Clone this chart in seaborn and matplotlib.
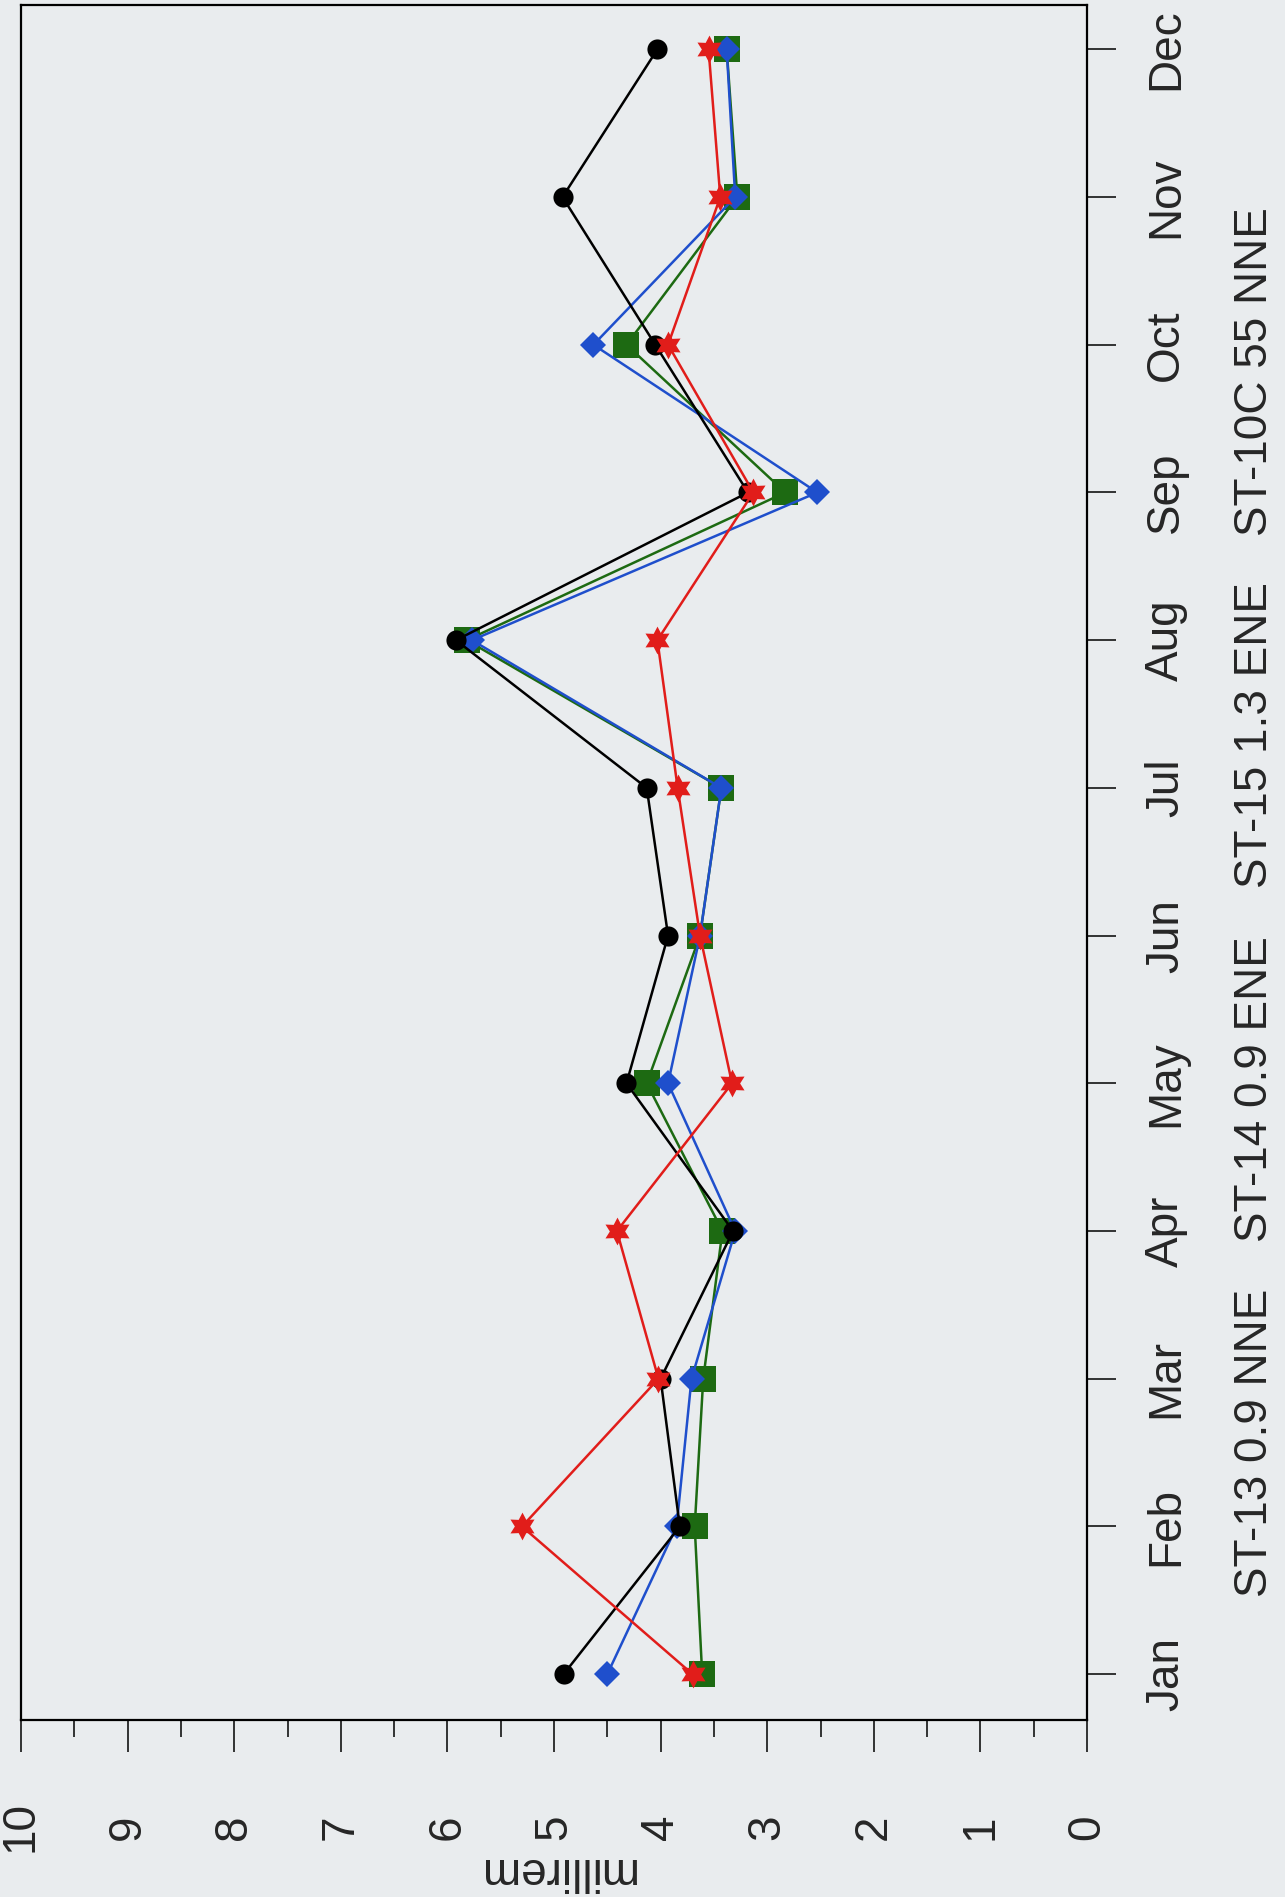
import numpy as np
import pandas as pd
import seaborn as sns
import matplotlib.pyplot as plt
from matplotlib import font_manager
from matplotlib.path import Path

# Donnees (millirem par mois)
months = ["Jan", "Feb", "Mar", "Apr", "May", "Jun", "Jul", "Aug", "Sep", "Oct", "Nov", "Dec"]
stations = ["ST-13 0.9 NNE", "ST-14 0.9 ENE", "ST-15 1.3 ENE", "ST-10C 55 NNE"]
st13 = [3.61, 3.68, 3.60, 3.42, 4.13, 3.63, 3.43, 5.82, 2.83, 4.32, 3.28, 3.38]
st14 = [4.50, 3.85, 3.71, 3.30, 3.93, 3.63, 3.43, 5.77, 2.53, 4.63, 3.30, 3.38]
st15 = [4.91, 3.82, 4.00, 3.32, 4.32, 3.93, 4.13, 5.92, 3.18, 4.05, 4.92, 4.03]
st10c = [3.70, 5.30, 4.02, 4.41, 3.33, 3.63, 3.84, 4.03, 3.13, 3.93, 3.44, 3.55]

df = pd.DataFrame({"mois": np.arange(len(months)),
                   stations[0]: st13, stations[1]: st14,
                   stations[2]: st15, stations[3]: st10c})

sns.set_style("white")
names = [f.name for f in font_manager.fontManager.ttflist]
font = "Liberation Sans Narrow" if "Liberation Sans Narrow" in names else "Liberation Sans"
plt.rcParams["font.family"] = [font, "DejaVu Sans"]
fs = 40 if font == "Liberation Sans Narrow" else 33

bg = "#e9ecee"
fig = plt.figure(figsize=(12.85, 18.97), dpi=100, facecolor=bg)
ax = fig.add_axes([21 / 1285, 1 - 1720 / 1897, 1066 / 1285, 1715 / 1897])
ax.set_facecolor(bg)

star = Path.unit_regular_star(6, 0.55)
styles = [
    ("#1d6a12", "s", 19),
    ("#1f4fcc", "D", 13),
    ("#000000", "o", 14.5),
    ("#e11d1a", star, 20),
]

# graphique "couche" : valeurs sur l'axe horizontal, mois sur l'axe vertical
for i, st in enumerate(stations):
    col, mk, ms = styles[i]
    sns.lineplot(data=df, x=st, y="mois", orient="y", estimator=None,
                 color=col, marker=mk, markersize=ms, markeredgewidth=0,
                 linewidth=1.8, ax=ax, zorder=3 + i)

ax.set_xlim(10, 0)
ax.set_ylim(-0.31, 11.3)

ax.set_xticks(np.arange(0, 11, 1))
ax.set_xticks(np.arange(0.5, 10, 1), minor=True)
ax.set_xticklabels([str(v) for v in range(11)], rotation=90, va="center", ha="center", fontsize=fs)
ax.tick_params(axis="x", which="both", bottom=True, top=False, direction="out", color="black")
ax.tick_params(axis="x", which="major", length=23, width=1.1, pad=54)
ax.tick_params(axis="x", which="minor", length=12, width=1.1)

ax.yaxis.tick_right()
ax.set_yticks(np.arange(len(months)))
ax.set_yticklabels(months, rotation=90, va="center", ha="center", fontsize=fs)
ax.tick_params(axis="y", right=True, left=False, direction="out", length=21, width=1.1, pad=36, color="black")

ax.set_xlabel("millirem", rotation=180, fontsize=fs, va="center")
ax.set_ylabel("")
ax.xaxis.set_label_coords(0.502, -0.0875)

for sp in ax.spines.values():
    sp.set_visible(True)
    sp.set_linewidth(1.6)
    sp.set_color("black")

if ax.get_legend() is not None:
    ax.get_legend().remove()

# legende (texte seul, comme sur la page numerisee)
leg_y = [1443, 1089, 735, 372]
for st, yy in zip(stations, leg_y):
    fig.text(1255 / 1285, 1 - yy / 1897, st, rotation=90, ha="center", va="center", fontsize=fs)

fig.savefig("out.png", dpi=100, facecolor=bg)
